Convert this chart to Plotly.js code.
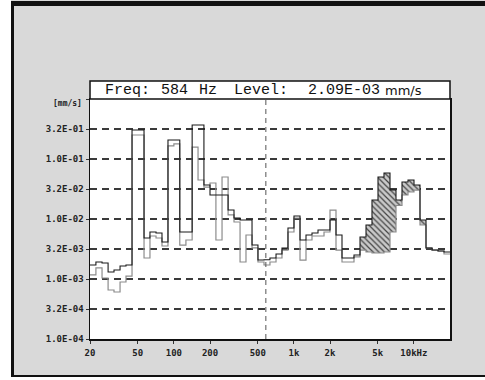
<!DOCTYPE html>
<html><head><meta charset="utf-8">
<script src="https://cdn.plot.ly/plotly-3.0.1.min.js"></script>
<style>html,body{margin:0;padding:0;background:#d9d9d9}</style>
</head><body><div id="chart" style="width:485px;height:380px"></div>
<script>
// band edges (Hz), 1/6-octave steps
const bandEdgesHz = [20, 22.4, 25.2, 28.3, 31.7, 35.6, 39.9, 44.8, 50.2, 56.4,
  63.2, 71.0, 79.6, 89.3, 100, 112, 126, 142, 159, 178,
  200, 224, 252, 283, 317, 356, 399, 448, 502, 564,
  632, 710, 796, 893, 1002, 1125, 1262, 1416, 1589, 1783,
  2000, 2244, 2518, 2825, 3170, 3557, 3991, 4477, 5024, 5637,
  6325, 7096, 7962, 8934, 10024, 11247, 12619, 14159, 15887, 17825, 20000];
// current spectrum (mm/s)
const levelCurrent = [0.00171, 0.00192, 0.00185, 0.00131, 0.00141, 0.00165, 0.00171, 0.304, 0.304, 0.00482,
  0.00607, 0.00584, 0.00414, 0.207, 0.207, 0.00607, 0.00607, 0.368, 0.368, 0.0368,
  0.0251, 0.0251, 0.0251, 0.0141, 0.0104, 0.00962, 0.00962, 0.00368, 0.00207, 0.00209,
  0.00224, 0.00261, 0.00329, 0.00708, 0.0112, 0.00447, 0.00541, 0.00584, 0.00656, 0.00656,
  0.00962, 0.00541, 0.00224, 0.00224, 0.00251, 0.00501, 0.00794, 0.0207, 0.0501, 0.0584,
  0.0304, 0.0207, 0.0414, 0.0447, 0.0368, 0.00962, 0.00329, 0.00304, 0.00293, 0.00282];
// reference spectrum (mm/s)
const levelReference = [0.00117, 0.00153, 0.00104, 0.000656, 0.000607, 0.000891, 0.00112, 0.251, 0.251, 0.00224,
  0.00521, 0.00482, 0.00355, 0.165, 0.178, 0.00368, 0.00447, 0.158, 0.0447, 0.0341,
  0.0398, 0.00447, 0.0501, 0.0117, 0.00891, 0.00192, 0.00541, 0.00329, 0.00192, 0.00171,
  0.00192, 0.00224, 0.00304, 0.00607, 0.0104, 0.00207, 0.00447, 0.00521, 0.00521, 0.00607,
  0.0141, 0.00304, 0.00192, 0.00192, 0.00233, 0.00304, 0.00282, 0.00271, 0.00271, 0.00282,
  0.00607, 0.0168, 0.0251, 0.0282, 0.0304, 0.00794, 0.00329, 0.00304, 0.00293, 0.00261];
const hatchFirstBand = 45, hatchLastBand = 55;
const cursorFreq = 584;
const cursorLevelText = '2.09E-03';
const yTickVals = [1e-4, 3.16e-4, 1e-3, 3.16e-3, 1e-2, 3.16e-2, 1e-1, 3.16e-1, 1];
const yTickText = ['1.0E-04','3.2E-04','1.0E-03','3.2E-03','1.0E-02','3.2E-02','1.0E-01','3.2E-01',''];
const xTickVals = [20, 50, 100, 200, 500, 1000, 2000, 5000, 10000];
const xTickText = ['20','50','100','200','500','1k','2k','5k','10kHz'];

function step(vals){ return vals.concat([vals[vals.length-1]]); }

const hx = bandEdgesHz.slice(hatchFirstBand, hatchLastBand + 2);
const hLow = step(levelReference.slice(hatchFirstBand, hatchLastBand + 1));
const hUp = step(levelCurrent.slice(hatchFirstBand, hatchLastBand + 1));

const traces = [
  {x: hx, y: hLow, mode:'lines', line:{shape:'hv', width:0, color:'rgba(0,0,0,0)'}, hoverinfo:'skip'},
  {x: hx, y: hUp, mode:'lines', line:{shape:'hv', width:0, color:'rgba(0,0,0,0)'}, fill:'tonexty',
   fillcolor:'#c4c4c4', fillpattern:{shape:'\\', fgcolor:'#444', bgcolor:'#c9c9c9', size:4, solidity:0.3}, hoverinfo:'skip'},
  {x: bandEdgesHz, y: step(levelReference), mode:'lines', line:{shape:'hv', width:1.2, color:'#8c8c8c'}},
  {x: bandEdgesHz, y: step(levelCurrent), mode:'lines', line:{shape:'hv', width:1.1, color:'#1a1a1a'}}
];

function px(x){ return (x-90)/360; }
function py(y){ return (339-y)/240; }
const monoFont = {family:'Liberation Mono, DejaVu Sans Mono, monospace', size:15, color:'#111'};
const titleY = py(90.5);

const layout = {
  width:485, height:380,
  margin:{l:90, r:35, t:99, b:41, pad:0},
  paper_bgcolor:'#d9d9d9', plot_bgcolor:'#ffffff',
  showlegend:false, hovermode:false,
  xaxis:{type:'log', range:[Math.log10(20), Math.log10(20000)], tickmode:'array', tickvals:xTickVals, ticktext:xTickText,
    showgrid:false, zeroline:false, showline:true, mirror:true, linecolor:'#111', linewidth:1.5,
    ticks:'outside', ticklen:3, tickcolor:'#333', ticklabelstandoff:2,
    tickfont:{family:'DejaVu Sans Mono, monospace', size:9, color:'#222', weight:'bold'}},
  yaxis:{type:'log', range:[-4, 0], tickmode:'array', tickvals:yTickVals, ticktext:yTickText,
    showgrid:true, gridcolor:'#3a3a3a', gridwidth:1.2, griddash:'7px,5px', zeroline:false,
    showline:true, mirror:true, linecolor:'#111', linewidth:1.5,
    ticks:'outside', ticklen:3, tickcolor:'#333',
    tickfont:{family:'DejaVu Sans Mono, monospace', size:9, color:'#222', weight:'bold'}},
  shapes:[
    {type:'line', xref:'x', yref:'paper', x0:cursorFreq, x1:cursorFreq, y0:0, y1:1, line:{color:'#555', width:1, dash:'5px,4px'}},
    {type:'rect', xref:'paper', yref:'paper', x0:0, x1:1, y0:1, y1:py(81), fillcolor:'#ffffff', line:{color:'#111', width:1.5}},
    {type:'rect', xref:'paper', yref:'paper', x0:px(-5), x1:px(11), y0:py(385), y1:py(-5), fillcolor:'#ffffff', line:{width:0}},
    {type:'rect', xref:'paper', yref:'paper', x0:px(11), x1:px(14), y0:py(376.5), y1:py(1), fillcolor:'#111', line:{width:0}},
    {type:'rect', xref:'paper', yref:'paper', x0:px(11), x1:px(490), y0:py(6), y1:py(1), fillcolor:'#111', line:{width:0}},
    {type:'rect', xref:'paper', yref:'paper', x0:px(11), x1:px(490), y0:py(377), y1:py(375), fillcolor:'#111', line:{width:0}},
    {type:'rect', xref:'paper', yref:'paper', x0:px(11), x1:px(490), y0:py(385), y1:py(377), fillcolor:'#ffffff', line:{width:0}}
  ],
  annotations:[
    {xref:'paper', yref:'paper', x:px(103), y:titleY, xanchor:'left', yanchor:'middle', showarrow:false, text:'Freq:', font:monoFont},
    {xref:'paper', yref:'paper', x:px(159), y:titleY, xanchor:'left', yanchor:'middle', showarrow:false, text:String(cursorFreq), font:monoFont},
    {xref:'paper', yref:'paper', x:px(197), y:titleY, xanchor:'left', yanchor:'middle', showarrow:false, text:'Hz', font:monoFont},
    {xref:'paper', yref:'paper', x:px(232), y:titleY, xanchor:'left', yanchor:'middle', showarrow:false, text:'Level:', font:monoFont},
    {xref:'paper', yref:'paper', x:px(306), y:titleY, xanchor:'left', yanchor:'middle', showarrow:false, text:cursorLevelText, font:monoFont},
    {xref:'paper', yref:'paper', x:px(383), y:titleY, xanchor:'left', yanchor:'middle', showarrow:false, text:'mm/s', font:{family:'DejaVu Sans, sans-serif', size:13, color:'#111'}},
    {xref:'paper', yref:'paper', x:px(84), y:py(103), xanchor:'right', yanchor:'middle', showarrow:false, text:'[mm/s]', font:{family:'DejaVu Sans Mono, monospace', size:8, color:'#222', weight:'bold'}}
  ]
};
Plotly.newPlot('chart', traces, layout, {displayModeBar:false, staticPlot:true});
</script>
</body></html>
